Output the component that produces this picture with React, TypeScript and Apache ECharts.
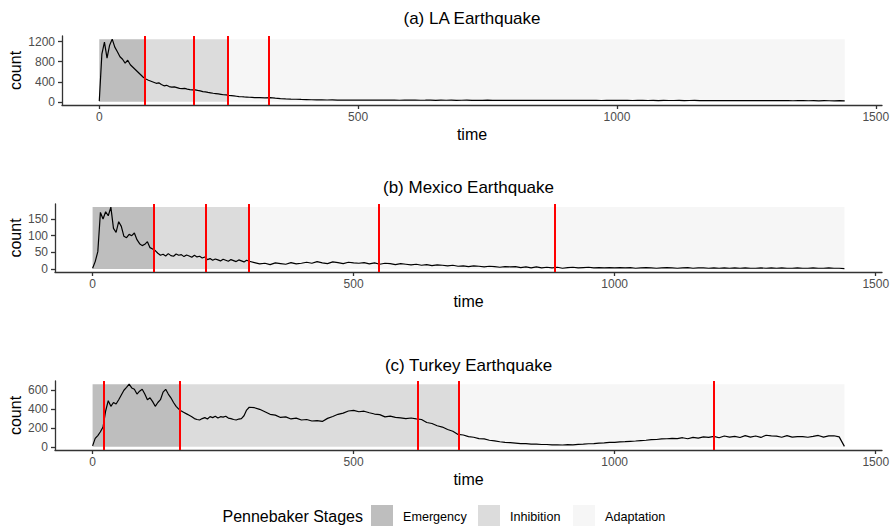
import React, { useEffect, useRef } from "react";
import * as echarts from "echarts";

const FONT = "'Liberation Sans', Arial, Helvetica, sans-serif";

// ---------- data ----------
const xExtent = [0, 1440];
const xTickValues = [0, 500, 1000, 1500];
const stageNames = ["Emergency", "Inhibition", "Adaptation"];
const stageColors = ["#bebebe", "#dcdcdc", "#f6f6f6"];
const panelTitles = ["(a) LA Earthquake", "(b) Mexico Earthquake", "(c) Turkey Earthquake"];

const laYTicks = [0, 400, 800, 1200];
const mxYTicks = [0, 50, 100, 150];
const tkYTicks = [0, 200, 400, 600];

// stage boundaries: end of Emergency, end of Inhibition
const laStageEnds = [88, 248];
const mxStageEnds = [118, 300];
const tkStageEnds = [167, 701];

// red vertical lines
const laLines = [88, 182, 248, 328];
const mxLines = [118, 217, 300, 549, 886];
const tkLines = [21, 167, 623, 701, 1189];

// counts every 5 minutes for t = 0..300
const laEarly = [15, 950, 1190, 870, 1130, 1250, 1090, 1000, 900, 850, 770, 830, 740, 690, 640, 590, 540, 490, 455, 430, 410, 390, 370, 380, 345, 320, 330, 305, 295, 300, 285, 270, 262, 268, 255, 245, 238, 240, 228, 218, 205, 198, 188, 180, 172, 165, 158, 150, 142, 138, 130, 124, 118, 112, 106, 102, 98, 95, 92, 90, 86];
// counts every 10 minutes for t = 310..1440
const laLate = [
  84, 80, 86, 74, 66, 60, 55, 52, 48, 45,
  42, 40, 39, 37, 38, 36, 35, 37, 34, 35,
  34, 36, 33, 35, 34, 33, 35, 32, 34, 33,
  34, 32, 33, 35, 31, 33, 32, 34, 31, 32,
  33, 31, 32, 30, 33, 31, 30, 32, 30, 31,
  30, 32, 29, 31, 30, 29, 31, 28, 30, 29,
  30, 28, 29, 31, 28, 29, 27, 30, 28, 29,
  28, 30, 27, 28, 29, 27, 28, 26, 28, 27,
  27, 28, 26, 27, 28, 25, 27, 26, 27, 25,
  26, 25, 27, 24, 26, 25, 24, 26, 23, 25,
  24, 23, 25, 22, 24, 23, 22, 24, 21, 23,
  22, 21, 23, 20,
];

const mxEarly = [2, 22, 52, 170, 150, 172, 160, 186, 122, 110, 142, 128, 98, 94, 104, 100, 108, 88, 76, 70, 74, 82, 64, 60, 55, 47, 41, 44, 39, 46, 40, 38, 45, 41, 43, 37, 42, 39, 35, 41, 36, 38, 33, 36, 28, 31, 26, 30, 27, 24, 29, 26, 23, 28, 25, 22, 27, 24, 21, 26, 23];
const mxLate = [
  19, 15, 17, 13, 18, 16, 14, 19, 15, 17,
  20, 17, 22, 18, 16, 21, 19, 16, 20, 18,
  17, 19, 15, 18, 14, 17, 16, 13, 16, 14,
  12, 14, 11, 13, 10, 12, 11, 9, 11, 8,
  9, 7, 9, 8, 6, 8, 7, 5, 7, 6,
  7, 4, 6, 3, 6, 3, 5, 3, 5, 2,
  4, 5, 3, 4, 5, 3, 4, 3, 4, 3,
  4, 3, 4, 2, 3, 4, 3, 2, 3, 4,
  3, 2, 3, 4, 2, 3, 3, 2, 3, 2,
  3, 2, 3, 2, 3, 2, 2, 3, 2, 3,
  2, 3, 2, 2, 3, 2, 2, 3, 2, 2,
  3, 2, 2, 1,
];

const tkEarly = [10, 90, 120, 160, 210, 380, 490, 430, 470, 455, 500, 550, 600, 630, 665, 625, 610, 560, 590, 610, 560, 500, 520, 480, 430, 470, 500, 580, 610, 560, 520, 470, 430, 400, 380, 365, 350, 335, 320, 300, 290, 285, 300, 310, 295, 320, 310, 325, 305, 320, 315, 325, 305, 300, 290, 285, 295, 300, 330, 390, 420];
const tkLate = [
  415, 398, 372, 345, 336, 312, 318, 296, 304, 285,
  290, 274, 279, 270, 302, 322, 345, 358, 380, 386,
  372, 378, 362, 348, 342, 318, 326, 312, 308, 300,
  306, 296, 290, 258, 248, 224, 210, 184, 166, 132,
  126, 108, 102, 88, 84, 70, 64, 54, 48, 44,
  40, 35, 34, 30, 29, 25, 25, 21, 22, 20,
  23, 22, 26, 28, 33, 35, 40, 42, 47, 48,
  53, 55, 59, 62, 67, 70, 77, 78, 85, 86,
  90, 88, 97, 86, 101, 92, 106, 100, 112, 97,
  115, 103, 112, 99, 119, 104, 115, 100, 123, 116,
  114, 102, 119, 104, 108, 109, 102, 111, 121, 104,
  117, 118, 106, 5,
];

// ---------- layout ----------
const grids = [
  { left: 62, top: 36, width: 820, height: 69 },
  { left: 55, top: 204, width: 827, height: 68 },
  { left: 55, top: 381, width: 827, height: 69 },
];
const titleY = [18, 187, 365];
const yNameGap = [39, 32, 32];

function toPairs(early: number[], late: number[]) {
  return early.map((v, i) => [i * 5, v]).concat(late.map((v, i) => [310 + i * 10, v]));
}

const panels = [
  { data: toPairs(laEarly, laLate), ticks: laYTicks, ends: laStageEnds, lines: laLines },
  { data: toPairs(mxEarly, mxLate), ticks: mxYTicks, ends: mxStageEnds, lines: mxLines },
  { data: toPairs(tkEarly, tkLate), ticks: tkYTicks, ends: tkStageEnds, lines: tkLines },
];

export default function App() {
  const ref = useRef<HTMLDivElement>(null);
  useEffect(() => {
    if (!ref.current) return;
    const chart = echarts.init(ref.current, undefined, { renderer: "svg" });
    const xPad = (xExtent[1] - xExtent[0]) * 0.05;
    const axisColor = "#333333";
    const plain = (v: number) => String(v);

    const xAxis = panels.map((p, i) => ({
      type: "value",
      gridIndex: i,
      min: xExtent[0] - xPad,
      max: xExtent[1] + xPad,
      axisLine: { show: true, onZero: false, lineStyle: { color: axisColor, width: 1.3 } },
      axisTick: { show: true, length: 4, customValues: xTickValues, lineStyle: { color: axisColor, width: 1.3 } },
      axisLabel: { customValues: xTickValues, formatter: plain, color: "#4d4d4d", fontSize: 12, margin: 6, fontFamily: FONT },
      splitLine: { show: false },
      name: "time",
      nameLocation: "middle",
      nameGap: 21,
      nameMoveOverlap: false,
      nameTextStyle: { fontSize: 16, color: "#000", fontFamily: FONT },
    }));

    const yAxis = panels.map((p, i) => {
      const maxV = Math.max(...p.data.map((d) => d[1]));
      return {
        type: "value",
        gridIndex: i,
        min: -maxV * 0.05,
        max: maxV * 1.05,
        axisLine: { show: true, onZero: false, lineStyle: { color: axisColor, width: 1.3 } },
        axisTick: { show: true, length: 4, customValues: p.ticks, lineStyle: { color: axisColor, width: 1.3 } },
        axisLabel: { customValues: p.ticks, formatter: plain, color: "#4d4d4d", fontSize: 12, margin: 7, fontFamily: FONT },
        splitLine: { show: false },
        name: "count",
        nameLocation: "middle",
        nameRotate: 90,
        nameGap: yNameGap[i],
        nameMoveOverlap: false,
        nameTextStyle: { fontSize: 16, color: "#000", fontFamily: FONT },
      };
    });

    const series = panels.map((p, i) => {
      const maxV = Math.max(...p.data.map((d) => d[1]));
      const bounds = [xExtent[0], p.ends[0], p.ends[1], xExtent[1]];
      const areas = stageNames.map((name, k) => [
        { xAxis: bounds[k], yAxis: 0, itemStyle: { color: stageColors[k] } },
        { xAxis: bounds[k + 1], yAxis: maxV },
      ]);
      return {
        type: "line",
        xAxisIndex: i,
        yAxisIndex: i,
        data: p.data,
        showSymbol: false,
        symbol: "none",
        silent: true,
        lineStyle: { color: "#000", width: 1.2 },
        markArea: { silent: true, label: { show: false }, data: areas },
        markLine: {
          silent: true,
          symbol: ["none", "none"],
          label: { show: false },
          lineStyle: { color: "#ff0000", width: 2, type: "solid" },
          emphasis: { disabled: true },
          data: p.lines.map((v) => ({ xAxis: v })),
        },
      };
    });

    const graphic: any[] = [];
    panelTitles.forEach((t, i) => {
      graphic.push({
        type: "text",
        x: grids[i].left + grids[i].width / 2,
        y: titleY[i],
        style: { text: t, fontSize: 17, fontFamily: FONT, fill: "#000", textAlign: "center", textVerticalAlign: "middle" },
      });
    });
    graphic.push({
      type: "text",
      x: 363,
      y: 516,
      style: { text: "Pennebaker Stages", fontSize: 16, fontFamily: FONT, fill: "#000", textAlign: "right", textVerticalAlign: "middle" },
    });
    const swatchX = [371, 478, 573];
    stageNames.forEach((n, k) => {
      graphic.push({ type: "rect", shape: { x: swatchX[k], y: 505, width: 22, height: 22 }, style: { fill: stageColors[k] } });
      graphic.push({
        type: "text",
        x: swatchX[k] + 32,
        y: 517,
        style: { text: n, fontSize: 12.6, fontFamily: FONT, fill: "#000", textAlign: "left", textVerticalAlign: "middle" },
      });
    });

    chart.setOption({
      animation: false,
      backgroundColor: "#ffffff",
      textStyle: { fontFamily: FONT },
      grid: grids.map((g) => ({ ...g, containLabel: false, outerBoundsMode: "none" })),
      xAxis,
      yAxis,
      series,
      graphic,
    });
    return () => chart.dispose();
  }, []);
  return (
    <div style={{ position: "absolute", left: 0, top: 0, width: 894, height: 526, background: "#fff" }}>
      <div ref={ref} style={{ width: 894, height: 526 }} />
    </div>
  );
}
